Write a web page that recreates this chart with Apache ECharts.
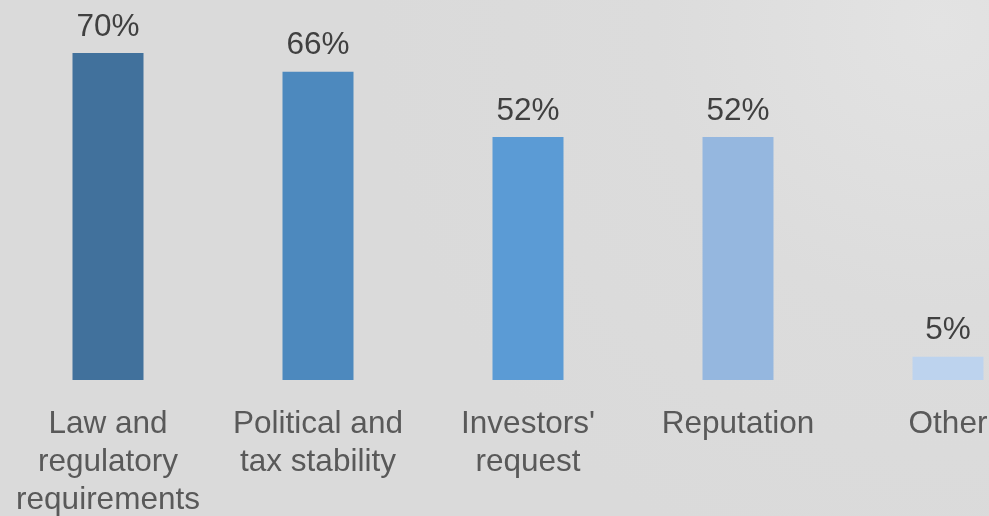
<!DOCTYPE html>
<html>
<head>
<meta charset="utf-8">
<script src="https://cdn.jsdelivr.net/npm/echarts@6/dist/echarts.min.js"></script>
<style>
  html, body { margin: 0; padding: 0; background: #dddddd; }
  #chart { width: 989px; height: 516px; }
</style>
</head>
<body>
<div id="chart"></div>
<script>
// Drivers and their share of respondents (%)
const categories = [
  'Law and\nregulatory\nrequirements',
  'Political and\ntax stability',
  "Investors'\nrequest",
  'Reputation',
  'Other'
];
const shares = [70, 66, 52, 52, 5];
const barColors = ['#41719c', '#4d89be', '#5b9bd5', '#95b7df', '#bdd3ee'];

const chart = echarts.init(document.getElementById('chart'), null, { renderer: 'canvas' });

chart.setOption({
  backgroundColor: {
    type: 'radial', x: 0.95, y: 0.05, r: 1.1,
    colorStops: [
      { offset: 0, color: '#e3e3e3' },
      { offset: 0.5, color: '#dcdcdc' },
      { offset: 1, color: '#dadada' }
    ]
  },
  animation: false,
  // the last category band runs past the right edge of the canvas
  grid: {
    left: 3, top: 53, width: 1050, bottom: 136,
    containLabel: false,
    outerBoundsMode: 'none'
  },
  xAxis: {
    type: 'category',
    data: categories,
    axisLine: { show: false },
    axisTick: { show: false },
    axisLabel: {
      interval: 0,
      margin: 25,
      color: '#595959',
      fontFamily: 'Liberation Sans, Arial, sans-serif',
      fontSize: 31.5,
      lineHeight: 38,
      hideOverlap: false
    }
  },
  yAxis: {
    type: 'value',
    min: 0,
    max: 70,
    show: false,
    splitLine: { show: false }
  },
  series: [{
    type: 'bar',
    barWidth: 71,
    data: shares.map((v, i) => ({ value: v, itemStyle: { color: barColors[i] } })),
    label: {
      show: true,
      position: 'top',
      distance: 10,
      formatter: '{c}%',
      color: '#404040',
      fontFamily: 'Liberation Sans, Arial, sans-serif',
      fontSize: 31.5
    }
  }]
});
</script>
</body>
</html>
